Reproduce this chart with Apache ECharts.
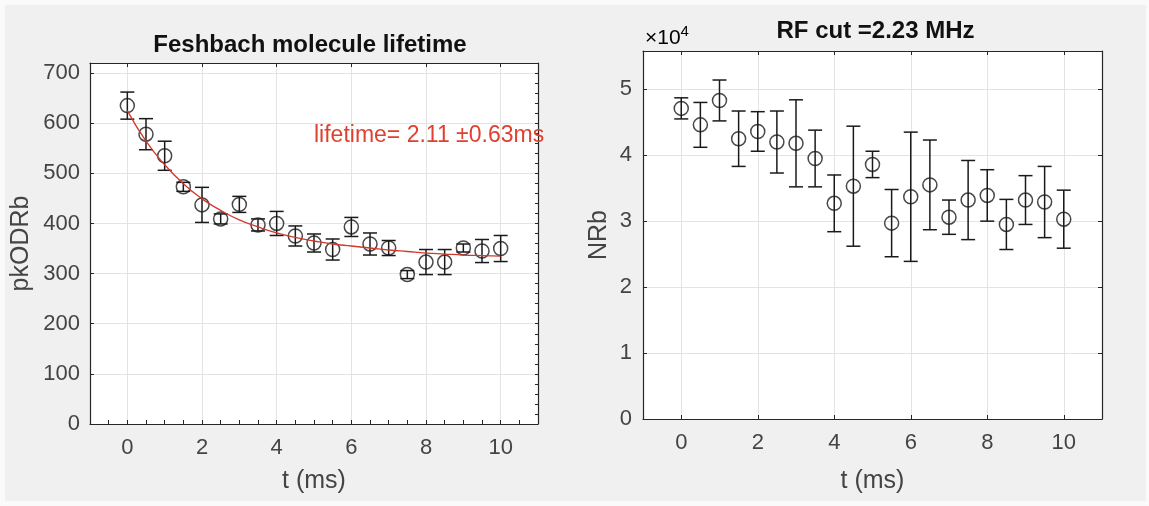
<!DOCTYPE html>
<html><head><meta charset="utf-8">
<script src="https://cdn.jsdelivr.net/npm/echarts@6/dist/echarts.min.js"></script>
<style>html,body{margin:0;padding:0;background:#fff;} #c{width:1149px;height:506px;background:#f0f0f0;box-shadow:inset 5px 5px 0 0 #fafafa, inset -3px -5px 0 0 #fafafa;}</style>
</head><body><div id="c"></div>
<script>
// ---------- data ----------
const tValues = [0,0.5,1,1.5,2,2.5,3,3.5,4,4.5,5,5.5,6,6.5,7,7.5,8,8.5,9,9.5,10];
const pkODRb = [635,578,535,473,437,409,438,397,400,375,361,348,393,359,351,298,323,323,351,345,350];
const pkODRbErr = [27,31,29,9,35,10,16,12,24,20,18,21,19,22,15,8,25,25,8,23,26];
const fitValues = [625,564,517,479,449,426,407,393,381,372,365,359,355,351,347,344,341,339,337,336,335];
const NRb = [47100,44600,48300,42500,43600,42000,41800,39500,32700,35300,38600,29700,33700,35500,30600,33200,33900,29500,33200,32900,30300];
const NRbErr = [1600,3400,3100,4200,3000,4700,6600,4300,4300,9100,2000,5100,9800,6800,2600,6000,3900,3800,3700,5400,4400];
const xTickLabels = [0,2,4,6,8,10];
const xMinorTicks = [-0.5,0,0.5,1,1.5,2,2.5,3,3.5,4,4.5,5,5.5,6,6.5,7,7.5,8,8.5,9,9.5,10,10.5];
const leftYTicks = [0,100,200,300,400,500,600,700];
const leftYMinorTicks = [20,40,60,80,100,120,140,160,180,200,220,240,260,280,300,320,340,360,380,400,420,440,460,480,500,520,540,560,580,600,620,640,660,680,700];
const rightYTickLabels = [0,1,2,3,4,5];
const nrbScale = 10000;
const leftTitle = 'Feshbach molecule lifetime';
const rightTitle = 'RF cut =2.23 MHz';
const fitLabel = 'lifetime= 2.11 \u00b10.63ms';

// ---------- styles ----------
const FONT = '"Liberation Sans", Arial, sans-serif';
const AX = '#262626';
const LBL = '#444';
const GRID = '#e3e3e3';

const chart = echarts.init(document.getElementById('c'), null, {renderer: 'canvas'});

function xAxisPair(gridIndex, bottomTicks, nameGap) {
  return [
    {gridIndex, type:'value', position:'bottom', min:-1, max:11,
     axisLine:{show:true, onZero:false, lineStyle:{color:AX, width:1.2}},
     axisTick:{show:true, inside:true, length:4, customValues:bottomTicks, lineStyle:{color:AX}},
     axisLabel:{show:true, customValues:xTickLabels, color:LBL, fontSize:22, fontFamily:FONT, margin:13},
     splitLine:{show:false},
     name:'t (ms)', nameLocation:'middle', nameGap:nameGap,
     nameTextStyle:{color:LBL, fontSize:25, fontFamily:FONT}},
    {gridIndex, type:'value', position:'top', min:-1, max:11,
     axisLine:{show:true, onZero:false, lineStyle:{color:AX, width:1.2}},
     axisTick:{show:true, inside:true, length:4, customValues:xTickLabels, lineStyle:{color:AX}},
     axisLabel:{show:false},
     splitLine:{show:true, lineStyle:{color:GRID, width:1}}}
  ];
}

function errRender(params, api) {
  const x = api.value(0), y = api.value(1), e = api.value(2);
  const top = api.coord([x, y + e]);
  const bot = api.coord([x, y - e]);
  const hw = 7;
  const st = {stroke:'#1a1a1a', lineWidth:1.5};
  return {type:'group', children:[
    {type:'line', shape:{x1:top[0], y1:top[1], x2:bot[0], y2:bot[1]}, style:st},
    {type:'line', shape:{x1:top[0]-hw, y1:top[1], x2:top[0]+hw, y2:top[1]}, style:st},
    {type:'line', shape:{x1:bot[0]-hw, y1:bot[1], x2:bot[0]+hw, y2:bot[1]}, style:st}
  ]};
}

const leftErrData = tValues.map((t,i)=>[t, pkODRb[i], pkODRbErr[i]]);
const rightErrData = tValues.map((t,i)=>[t, NRb[i], NRbErr[i]]);

const option = {
  backgroundColor:'transparent',
  animation:false,
  grid:[
    {left:90, top:63, right:611, bottom:82, backgroundColor:'#fff', show:true, borderWidth:0},
    {left:643, top:51, right:47, bottom:87, backgroundColor:'#fff', show:true, borderWidth:0}
  ],
  xAxis: [...xAxisPair(0, xMinorTicks, 45), ...xAxisPair(1, xTickLabels, 50)],
  yAxis: [
    {gridIndex:0, type:'value', position:'left', min:0, max:720,
     axisLine:{show:true, onZero:false, lineStyle:{color:AX, width:1.2}},
     axisTick:{show:true, inside:true, length:4, customValues:leftYTicks, lineStyle:{color:AX}},
     axisLabel:{show:true, customValues:leftYTicks, color:LBL, fontSize:22, fontFamily:FONT, margin:10},
     splitLine:{show:true, lineStyle:{color:GRID, width:1}},
     name:'pkODRb', nameLocation:'middle', nameGap:56,
     nameTextStyle:{color:LBL, fontSize:25, fontFamily:FONT}},
    {gridIndex:0, type:'value', position:'right', min:0, max:720,
     axisLine:{show:true, onZero:false, lineStyle:{color:AX, width:1.2}},
     axisTick:{show:true, inside:true, length:3, customValues:leftYMinorTicks, lineStyle:{color:AX}},
     axisLabel:{show:false}, splitLine:{show:false}},
    {gridIndex:1, type:'value', position:'left', min:0, max:5.58*nrbScale,
     axisLine:{show:true, onZero:false, lineStyle:{color:AX, width:1.2}},
     axisTick:{show:true, inside:true, length:4, customValues:rightYTickLabels.map(v=>v*nrbScale), lineStyle:{color:AX}},
     axisLabel:{show:true, customValues:rightYTickLabels.map(v=>v*nrbScale), color:LBL, fontSize:22, fontFamily:FONT, margin:11,
       formatter:(v)=>String(Math.round(v/nrbScale))},
     splitLine:{show:true, lineStyle:{color:GRID, width:1}},
     name:'NRb', nameLocation:'middle', nameGap:31,
     nameTextStyle:{color:LBL, fontSize:25, fontFamily:FONT}},
    {gridIndex:1, type:'value', position:'right', min:0, max:5.58*nrbScale,
     axisLine:{show:true, onZero:false, lineStyle:{color:AX, width:1.2}},
     axisTick:{show:true, inside:true, length:4, customValues:rightYTickLabels.map(v=>v*nrbScale), lineStyle:{color:AX}},
     axisLabel:{show:false}, splitLine:{show:false}}
  ],
  series: [
    {type:'custom', xAxisIndex:0, yAxisIndex:0, renderItem:errRender, data:leftErrData, clip:true, z:2},
    {type:'scatter', xAxisIndex:0, yAxisIndex:0, data:tValues.map((t,i)=>[t,pkODRb[i]]), symbol:'circle', symbolSize:14,
     itemStyle:{color:'rgba(0,0,0,0)', borderColor:'#1a1a1a', borderWidth:1.5}, z:3},
    {type:'line', xAxisIndex:0, yAxisIndex:0, data:tValues.map((t,i)=>[t,fitValues[i]]), smooth:true, symbol:'none',
     lineStyle:{color:'#d2382c', width:1.3}, z:4},
    {type:'custom', xAxisIndex:2, yAxisIndex:2, renderItem:errRender, data:rightErrData, clip:true, z:2},
    {type:'scatter', xAxisIndex:2, yAxisIndex:2, data:tValues.map((t,i)=>[t,NRb[i]]), symbol:'circle', symbolSize:14,
     itemStyle:{color:'rgba(0,0,0,0)', borderColor:'#1a1a1a', borderWidth:1.5}, z:3}
  ]
};
chart.setOption(option);

// annotations placed through the chart's own coordinate conversion
const lblPos = chart.convertToPixel({xAxisIndex:0, yAxisIndex:0}, [5.0, 575]);
const g0a = chart.convertToPixel({xAxisIndex:0, yAxisIndex:0}, [-1, 720]);
const g0b = chart.convertToPixel({xAxisIndex:0, yAxisIndex:0}, [11, 0]);
const g1a = chart.convertToPixel({xAxisIndex:2, yAxisIndex:2}, [-1, 5.58*nrbScale]);
const g1b = chart.convertToPixel({xAxisIndex:2, yAxisIndex:2}, [11, 0]);
chart.setOption({
  graphic: [
    {type:'text', x:(g0a[0]+g0b[0])/2 - 4, y:g0a[1]-18, z:10,
     style:{text:leftTitle, font:'bold 24px '+FONT, fill:'#111', align:'center', verticalAlign:'middle'}},
    {type:'text', x:(g1a[0]+g1b[0])/2 + 3, y:g1a[1]-20, z:10,
     style:{text:rightTitle, font:'bold 24px '+FONT, fill:'#111', align:'center', verticalAlign:'middle'}},
    {type:'text', x:g1a[0]+2, y:g1a[1]-13, z:10,
     style:{text:'{a|\u00d710}{b|4}', align:'left', verticalAlign:'middle',
       rich:{a:{fontSize:21, fontFamily:FONT, color:'#666'}, b:{fontSize:15, fontFamily:FONT, color:'#666', verticalAlign:'top', padding:[0,0,12,0]}}}},
    {type:'text', x:lblPos[0], y:lblPos[1], z:10,
     style:{text:fitLabel, font:'23px '+FONT, fill:'#e0402f', align:'left', verticalAlign:'middle'}}
  ]
});
</script>
</body></html>
